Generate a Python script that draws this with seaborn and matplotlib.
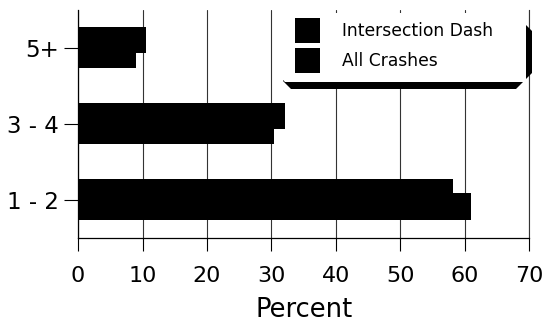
import matplotlib
matplotlib.use("Agg")
import matplotlib.pyplot as plt
import seaborn as sns
import pandas as pd
from matplotlib.patches import Polygon, Patch

# ---- data ----
categories = ["5+", "3 - 4", "1 - 2"]
series_names = ["Intersection Dash", "All Crashes"]
intersection_dash = [10.5, 32.1, 58.2]
all_crashes = [9.0, 30.4, 61.0]
x_ticks = [0, 10, 20, 30, 40, 50, 60, 70]
x_label = "Percent"

df = pd.DataFrame({
    "category": categories * 2,
    "series": [series_names[0]] * len(categories) + [series_names[1]] * len(categories),
    "value": intersection_dash + all_crashes,
})

sns.set_theme(style="white", rc={"text.color": "black", "xtick.color": "black",
                                 "ytick.color": "black", "axes.labelcolor": "black",
                                 "axes.edgecolor": "black"})
plt.rcParams["font.family"] = ["DejaVu Sans"]

W, H = 546, 328
fig = plt.figure(figsize=(W / 100, H / 100), dpi=100)
ax = fig.add_axes([78 / W, 1 - 238 / H, (529.5 - 78) / W, 228 / H])

sns.barplot(data=df, y="category", x="value", hue="series", order=categories,
            hue_order=series_names, orient="h", palette=["black", "black"],
            saturation=1, width=0.53, dodge=True, legend=False, ax=ax,
            linewidth=0, errorbar=None)

# overlapping bar layout as in reference
offsets = [(-0.27, 0.336), (-0.092, 0.349)]
for i, cont in enumerate(ax.containers):
    y0, h = offsets[i]
    for j, bar in enumerate(cont):
        bar.set_y(j + y0)
        bar.set_height(h)

ax.set_ylim(2.5, -0.5)
ax.set_xlim(0, 70)
ax.set_xticks(x_ticks)
ax.set_xlabel(x_label, fontsize=18.5, labelpad=8)
ax.set_ylabel("")
ax.xaxis.grid(True, color="#333333", lw=0.8)
ax.yaxis.grid(False)
ax.set_axisbelow(True)
ax.spines["top"].set_visible(False)
ax.spines["right"].set_color("#333333")
ax.spines["right"].set_linewidth(0.8)
for s in ["left", "bottom"]:
    ax.spines[s].set_color("black")
    ax.spines[s].set_linewidth(0.9)
ax.tick_params(axis="x", bottom=True, direction="out", length=9.4, width=0.8,
               pad=10.5, labelsize=16)
ax.tick_params(axis="y", left=True, direction="out", length=10, width=0.8,
               pad=4, labelsize=16.5)


def px(x, y):
    return (x / W, 1 - y / H)


shadow = [(283, 21), (522, 21), (532, 31), (532, 73), (516, 89), (291, 89), (283, 81)]
box = [(277, 13), (516, 13), (526, 23), (526, 82), (285, 82), (277, 74)]
fig.add_artist(Polygon([px(*p) for p in shadow], closed=True, transform=fig.transFigure,
                       facecolor="black", edgecolor="none", zorder=2))
fig.add_artist(Polygon([px(*p) for p in box], closed=True, transform=fig.transFigure,
                       facecolor="white", edgecolor="none", zorder=3))

handles = [Patch(facecolor="black", edgecolor="none") for _ in series_names]
leg = fig.legend(handles=handles, labels=series_names, loc="upper left",
                 bbox_to_anchor=px(295, 18), bbox_transform=fig.transFigure,
                 frameon=False, fontsize=12.3, handlelength=1.46, handleheight=1.87,
                 handletextpad=1.3, labelspacing=0.29, borderpad=0, borderaxespad=0)
leg.set_zorder(5)

fig.savefig("out.png", dpi=100)
